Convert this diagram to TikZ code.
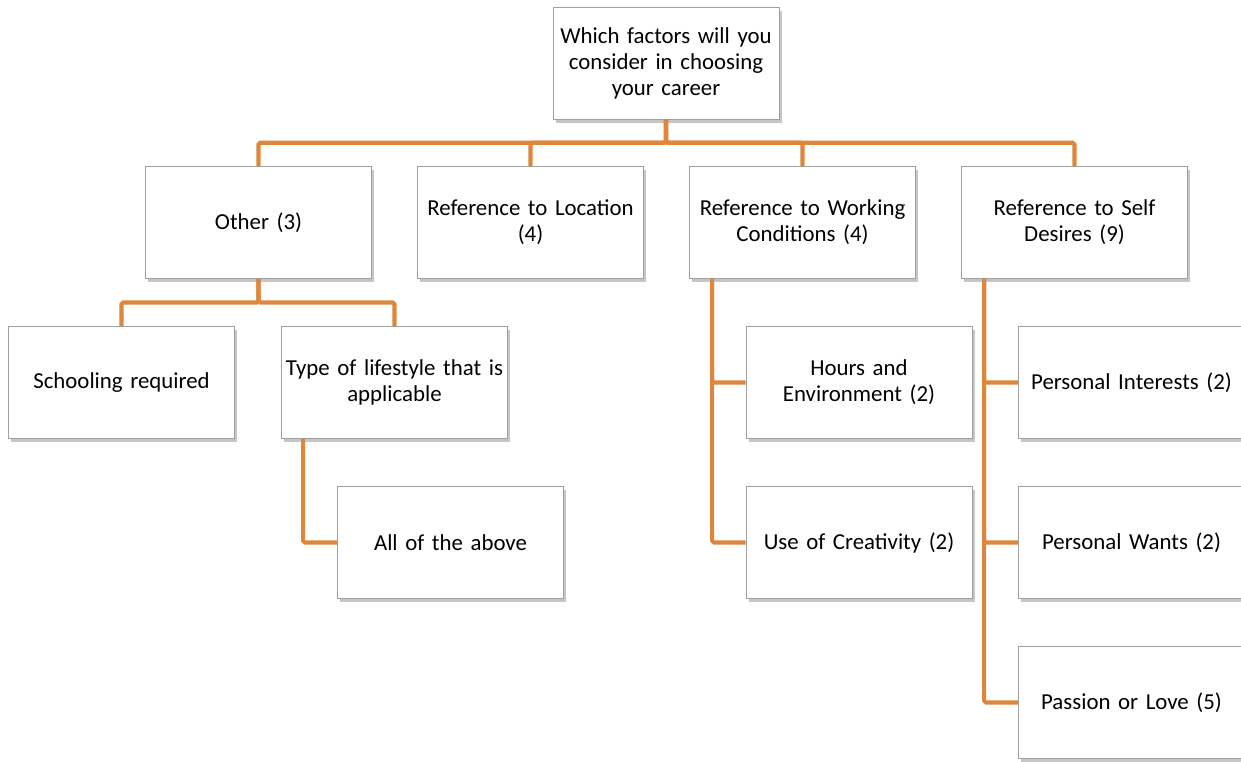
\documentclass[tikz,border=0pt]{standalone}
\usepackage{fontspec}
\setmainfont{Carlito}[WordSpace=0.7]
\usetikzlibrary{calc,positioning,shadows}
\definecolor{linkorange}{RGB}{222,134,60}
\tikzset{%
	box/.style      = {draw=gray!75, fill=white, rectangle, minimum width=4.52cm, minimum height=2.24cm, text width=4.4cm, inner xsep=1pt, align=center, font=\fontsize{13}{14.8}\selectfont, drop shadow={shadow xshift=0.05cm, shadow yshift=-0.07cm, opacity=0.45}},
	link/.style     = {draw=linkorange, line width=2.3pt, rounded corners=1pt}, % Connector
	waypoint/.style = {coordinate},
}
\begin{document}
\begin{tikzpicture}[node distance=5.44cm]
	\useasboundingbox (0,0) rectangle (24.82,-15.24);
	\node [box] (root) at (13.32,-1.26) {Which factors will you\\consider in choosing\\your career};
	\node [box] (loc) at (10.61,-4.45) {Reference to Location\\(4)};
	\node [box] (other) [left of=loc] {Other (3)};
	\node [box] (work) [right of=loc] {Reference to Working\\Conditions (4)};
	\node [box] (self) [right of=work] {Reference to Self\\Desires (9)};
	
	\node [box] (school) [below of=other,node distance=3.2cm,xshift=-2.74cm] {Schooling required};
	\node [box] (life) [below of=other,node distance=3.2cm,xshift=2.72cm] {Type of lifestyle that is\\applicable};
	\node [box] (all) [below of=life,node distance=3.2cm,xshift=1.12cm] {All of the above};
	\node [box] (hours) [below of=work,node distance=3.2cm,xshift=1.13cm] {Hours and\\Environment (2)};
	\node [box] (creat) [below of=hours,node distance=3.2cm] {Use of Creativity (2)};
	\node [box] (interest) [below of=self,node distance=3.2cm,xshift=1.14cm] {Personal Interests (2)};
	\node [box] (wants) [below of=interest,node distance=3.2cm] {Personal Wants (2)};
	\node [box] (passion) [below of=wants,node distance=3.2cm] {Passion or Love (5)};
	
	\node [waypoint] (bus) at ($(root.south)!0.5!(root.south |- loc.north)$) {};
	\node [waypoint] (otherbus) at ($(other.south)!0.5!(other.south |- school.north)$) {};
	
	\foreach \n in {other,loc,work,self}
		\draw [link] (root.south) -- (bus) -| (\n.north);
	\foreach \n in {school,life}
		\draw [link] (other.south) -- (otherbus) -| (\n.north);
	\draw [link] ([xshift=0.44cm]life.south west) |- (all.west);
	\foreach \n in {hours,creat}
		\draw [link] ([xshift=0.46cm]work.south west) |- (\n.west);
	\foreach \n in {interest,wants,passion}
		\draw [link] ([xshift=0.46cm]self.south west) |- (\n.west);
\end{tikzpicture}
\end{document}
